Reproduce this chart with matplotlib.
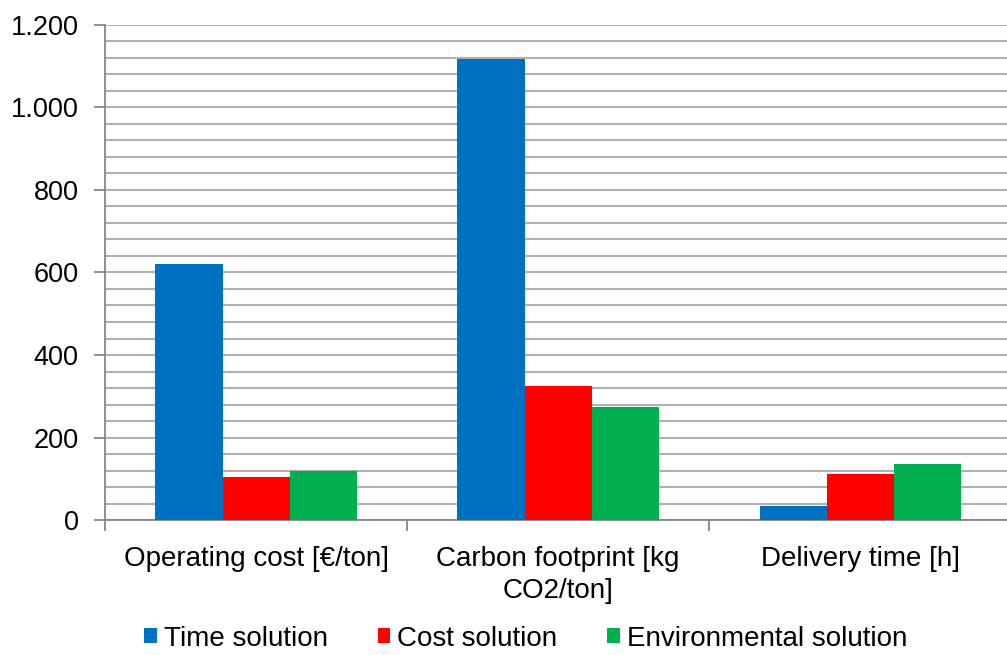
import numpy as np
import matplotlib.pyplot as plt
from matplotlib.ticker import MultipleLocator, FuncFormatter

plt.rcParams['font.family'] = ['Liberation Sans', 'DejaVu Sans']

categories = ["Operating cost [€/ton]", "Carbon footprint [kg\nCO2/ton]", "Delivery time [h]"]
time_solution = [620, 1118, 34]
cost_solution = [104, 324, 112]
env_solution = [120, 275, 137]

series = [("Time solution", time_solution, "#0070C0"),
          ("Cost solution", cost_solution, "#FF0000"),
          ("Environmental solution", env_solution, "#00B050")]

fig = plt.figure(figsize=(10.07, 6.55), dpi=100)
ax = fig.add_axes([0.1043, 0.206, 0.9, 0.756])

x = np.arange(len(categories))
w = 1 / 4.5  # excel style: gap width 150%
for i, (name, vals, col) in enumerate(series):
    ax.bar(x + (i - 1) * w, vals, w, color=col, label=name, zorder=3)

ax.set_xlim(-0.5, 2.5)
ax.set_ylim(0, 1200)

# y axis: labels every 200, grid every 40
ax.yaxis.set_major_locator(MultipleLocator(200))
ax.yaxis.set_minor_locator(MultipleLocator(40))
ax.yaxis.set_major_formatter(FuncFormatter(lambda v, p: f"{int(v):,}".replace(",", ".")))
ax.grid(axis='y', which='both', color='#b0b0b0', linewidth=1.5, zorder=0)
ax.tick_params(axis='y', which='major', direction='out', length=8, width=1.3,
               color='#868686', labelsize=19.5, pad=11)
ax.tick_params(axis='y', which='minor', length=0)

# x axis: category names in the middle, tick marks between groups
ax.set_xticks(x)
ax.set_xticklabels(categories, linespacing=1.3)
ax.set_xticks([-0.5, 0.5, 1.5, 2.5], minor=True)
ax.tick_params(axis='x', which='major', length=0, labelsize=20, pad=19)
ax.tick_params(axis='x', which='minor', direction='out', length=8, width=1.3, color='#868686')

for s in ['top', 'right']:
    ax.spines[s].set_visible(False)
for s in ['left', 'bottom']:
    ax.spines[s].set_color('#868686')
    ax.spines[s].set_linewidth(1.3)

fig.legend(loc='center', bbox_to_anchor=(0.522, 0.025), ncol=3, frameon=False,
           fontsize=20, handlelength=0.45, handleheight=0.45, handletextpad=0.25,
           columnspacing=1.8, borderpad=0)

fig.savefig("out.png", dpi=100)
